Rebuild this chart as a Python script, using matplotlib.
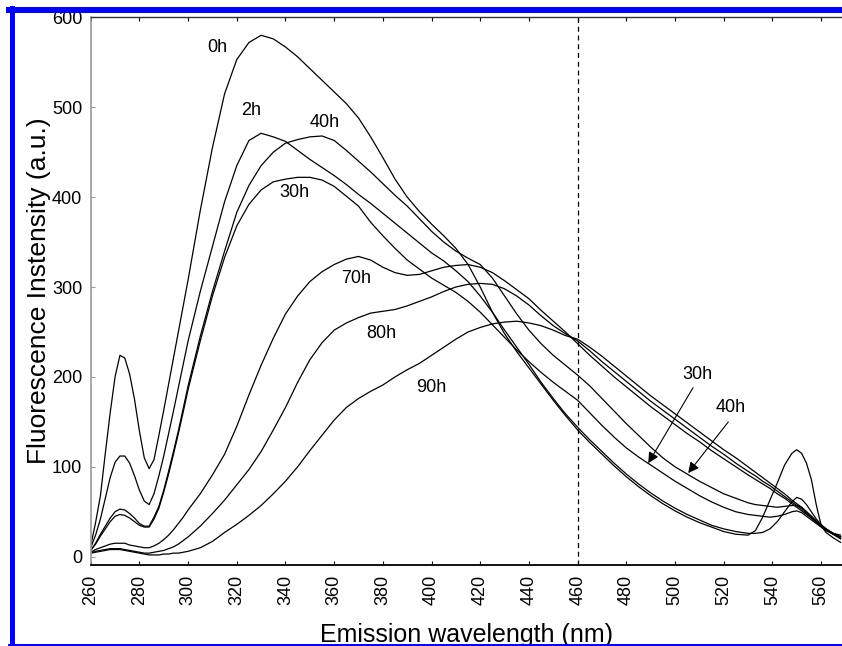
import matplotlib
matplotlib.use("Agg")
import matplotlib.pyplot as plt
from matplotlib.lines import Line2D

plt.rcParams['font.family'] = ['Liberation Sans', 'DejaVu Sans']

# emission wavelength (nm)
wl = [260, 262, 264, 266, 268, 270, 272, 274, 276, 278, 280, 282, 284, 286,
      288, 290, 292, 294, 296, 298, 300,
      305, 310, 315, 320, 325, 330, 335, 340, 345, 350, 355, 360, 365, 370,
      375, 380, 385, 390, 395, 400, 405, 410, 415, 420, 425, 430, 435, 440,
      445, 450, 455, 460, 465, 470, 475, 480, 485, 490, 495, 500, 505, 510,
      515, 520, 525,
      530, 533, 536, 539, 542, 545, 548, 550, 552, 554, 556, 558, 560, 562,
      565, 568]

# intensities, one list per incubation time
i_0h = [12, 38, 68, 115, 160, 200, 224, 221, 203, 175, 140, 110, 98, 108,
        135, 163, 192, 221, 250, 279, 308,
        385, 455, 515, 553, 572, 580, 576, 567, 556, 543, 530, 517, 504, 488,
        467, 444, 420, 400, 384, 370, 357, 343, 325, 300, 272, 248, 228, 210,
        192, 174, 157, 141, 127, 114, 101, 89, 78, 68, 59, 51, 44, 38,
        33, 28, 25,
        24, 29, 44, 63, 82, 102, 115, 119, 115, 104, 86, 58, 35, 27,
        21, 16]
i_2h = [10, 24, 42, 65, 88, 105, 112, 112, 104, 90, 74, 62, 58, 70,
        90, 112, 137, 162, 188, 214, 240,
        295, 345, 395, 435, 463, 471, 467, 462, 452, 442, 433, 424, 414, 403,
        393, 382, 371, 360, 349, 338, 329, 318, 306, 290, 272, 252, 233, 214,
        194, 176, 159, 144, 130, 117, 104, 92, 81, 71, 62, 54, 47, 41,
        35, 31, 28,
        26, 26, 27, 31, 39, 50, 61, 66, 64, 58, 50, 42, 36, 31,
        26, 22]
i_30h = [7, 14, 23, 31, 39, 45, 47, 46, 43, 39, 35, 33, 33, 42,
         54, 72, 92, 114, 137, 161, 186,
         240, 290, 333, 368, 392, 408, 417, 420, 422, 422, 419, 412, 401, 390,
         372, 357, 343, 330, 320, 310, 302, 294, 284, 272, 258, 244, 230, 217,
         205, 194, 184, 174, 160, 146, 133, 121, 111, 102, 93, 84, 76, 68,
         61, 55, 50,
         47, 46, 45, 44, 45, 47, 50, 51, 49, 45, 41, 37, 33, 29,
         25, 22]
i_40h = [7, 15, 25, 34, 43, 50, 53, 52, 48, 43, 37, 34, 34, 44,
         56, 74, 95, 117, 140, 165, 190,
         245, 295, 340, 383, 413, 435, 450, 460, 464, 467, 468, 463, 452, 440,
         428, 415, 402, 390, 376, 362, 350, 340, 332, 325, 310, 290, 270, 252,
         237, 224, 213, 202, 190, 176, 162, 148, 135, 122, 110, 100, 92, 84,
         77, 70, 65,
         60, 58, 57, 56, 55, 56, 57, 57, 55, 50, 45, 39, 34, 30,
         26, 24]
i_70h = [5, 8, 10, 12, 14, 15, 15, 15, 13, 12, 11, 10, 10, 12,
         15, 19, 24, 30, 37, 44, 52,
         70, 91, 114, 145, 180, 213, 243, 270, 290, 306, 317, 325, 331, 334,
         330, 322, 316, 313, 314, 318, 322, 324, 325, 322, 316, 307, 297, 287,
         274, 262, 250, 237, 224, 212, 200, 189, 178, 167, 157, 147, 137, 128,
         118, 109, 100,
         91, 86, 81, 76, 70, 65, 59, 55, 51, 47, 43, 38, 34, 30,
         25, 20]
i_80h = [4, 6, 7, 8, 9, 9, 9, 8, 7, 6, 5, 4, 4, 5,
         6, 7, 9, 11, 14, 18, 22,
         34, 48, 63, 80, 97, 117, 141, 166, 194, 219, 238, 252, 260, 266,
         271, 273, 275, 279, 284, 289, 295, 300, 303, 304, 303, 298, 290, 280,
         268, 257, 248, 240, 229, 217, 206, 195, 184, 173, 163, 153, 143, 133,
         123, 114, 104,
         95, 90, 84, 79, 73, 67, 61, 57, 53, 48, 44, 39, 35, 31,
         26, 22]
i_90h = [4, 5, 6, 7, 8, 8, 8, 7, 6, 5, 4, 3, 2, 2,
         2, 3, 3, 4, 4, 5, 6,
         10, 17, 27, 36, 46, 57, 70, 84, 100, 118, 135, 152, 166, 176,
         184, 191, 200, 208, 215, 224, 233, 242, 250, 255, 259, 261, 262, 260,
         257, 252, 246, 242, 233, 223, 212, 201, 190, 179, 169, 159, 149, 139,
         129, 119, 110,
         100, 94, 88, 82, 76, 70, 63, 59, 55, 50, 45, 40, 35, 31,
         25, 20]

curves = [i_0h, i_2h, i_30h, i_40h, i_70h, i_80h, i_90h]

# curve labels: text, wavelength, intensity
labels = [('0h', 312, 566), ('2h', 326, 496), ('40h', 356, 483),
          ('30h', 343.5, 405), ('70h', 369, 310), ('80h', 379.5, 248),
          ('90h', 400, 188)]

# arrow labels: text, text pos, arrow start, arrow tip
arrows = [('30h', (509, 203), (507.4, 188), (489, 104)),
          ('40h', (523, 166), (521.9, 150), (505.4, 93))]


def main():
    W, H = 842, 646
    fig = plt.figure(figsize=(W / 100, H / 100), dpi=100)
    ax = fig.add_axes([90.7 / W, 81 / H, (843 - 90.7) / W, (565 - 17.3) / H])

    for c in curves:
        ax.plot(wl, c, color='black', lw=0.9)

    ax.axvline(460, color='black', lw=0.9, ls=(0, (4, 3)))

    for txt, x, y in labels:
        ax.text(x, y, txt, fontsize=13, ha='center', va='center')

    for txt, tpos, start, tip in arrows:
        ax.text(tpos[0], tpos[1], txt, fontsize=13, ha='center', va='center')
        ax.annotate('', xy=tip, xytext=start,
                    arrowprops=dict(arrowstyle='-|>', color='black', lw=0.8,
                                    mutation_scale=16, shrinkA=0, shrinkB=0))

    ax.set_xlim(260, 569)
    ax.set_ylim(-9.2, 600)
    ax.set_xticks(range(260, 561, 20))
    ax.set_yticks(range(0, 601, 100))
    ax.tick_params(axis='x', direction='in', top=True, length=3, width=0.8,
                   labelsize=13, labelrotation=90, pad=7)
    ax.tick_params(axis='y', direction='in', length=3, width=0.8,
                   color='#999999', labelsize=13, pad=6)

    ax.spines['right'].set_visible(False)
    ax.spines['left'].set_color('#999999')
    ax.spines['left'].set_linewidth(1.2)
    ax.spines['bottom'].set_linewidth(1.3)
    ax.spines['top'].set_linewidth(1.0)
    ax.spines['top'].set_color('#333333')

    ax.set_ylabel('Fluorescence Instensity (a.u.)', fontsize=19, labelpad=1)
    ax.set_xlabel('Emission wavelength (nm)', fontsize=18, labelpad=13)

    # blue frame round the figure
    blue = '#0000ff'
    fig.add_artist(Line2D([9 / W, 1], [1 - 10 / H, 1 - 10 / H], color=blue,
                          lw=4.3, transform=fig.transFigure))
    fig.add_artist(Line2D([11.5 / W, 11.5 / W], [0, 1 - 7.5 / H], color=blue,
                          lw=3.6, transform=fig.transFigure))
    fig.add_artist(Line2D([9 / W, 1], [0.8 / H, 0.8 / H], color=blue,
                          lw=1.4, transform=fig.transFigure))

    fig.savefig('out.png', dpi=100)


if __name__ == '__main__':
    main()
